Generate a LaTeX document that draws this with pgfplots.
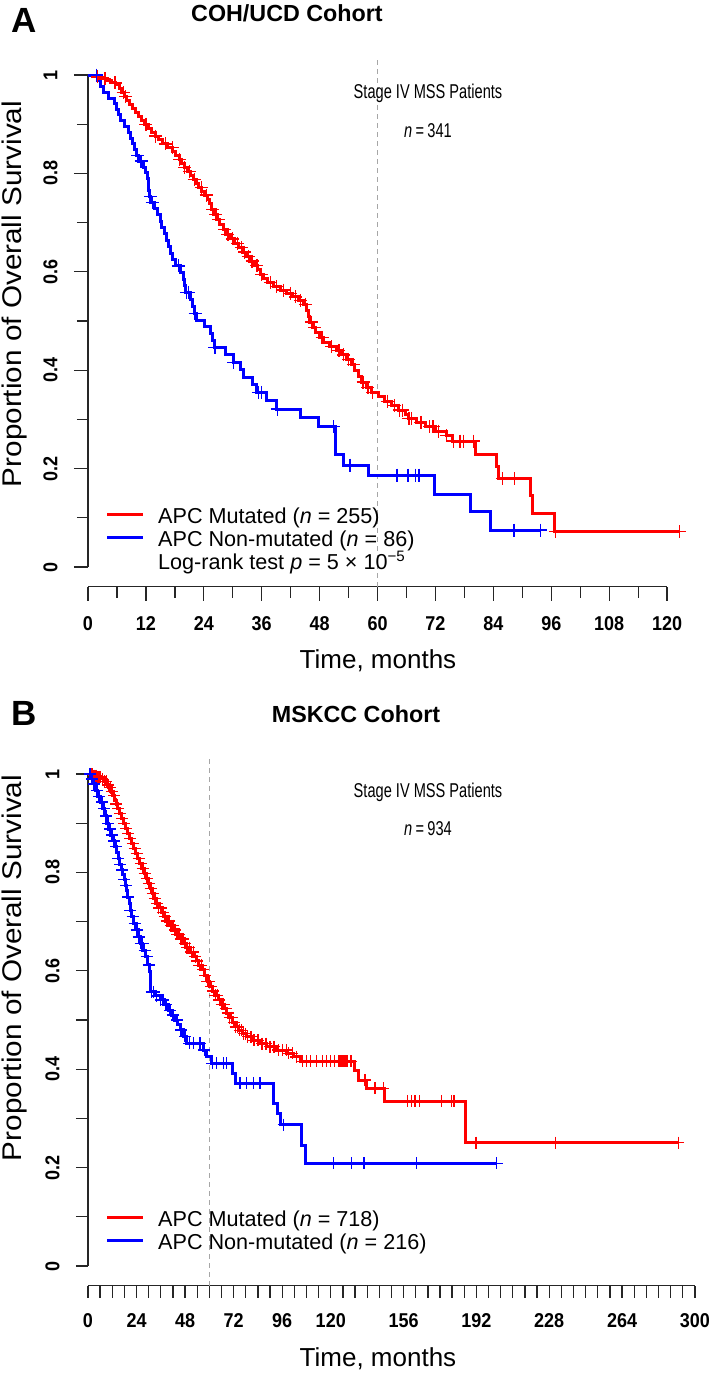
\documentclass[border=0pt]{standalone}
\usepackage{pgfplots}
\pgfplotsset{compat=1.18}
\usepackage{fontspec}
\setmainfont{Liberation Sans}
\newfontfamily\condfont{Liberation Sans}[FakeStretch=0.73]
\newfontfamily\tickfont{Liberation Sans}[FakeStretch=0.9]
\newfontfamily\widefont{Liberation Sans}[FakeStretch=1.1]
\pgfplotsset{kmaxis/.style={
  enlargelimits=false, clip=false,
  axis line style={draw=none},
  tick align=outside, xtick pos=left, ytick pos=left,
  ymin=-0.04, ymax=1.04, y=492pt,
  ytick={0,0.2,0.4,0.6,0.8,1},
  minor ytick={0.1,0.3,0.5,0.7,0.9},
  tick style={line width=1.3pt, black!85},
  /pgf/number format/assume math mode=true,
  ticklabel style={font=\tickfont\bfseries\fontsize{20}{22}\selectfont},
  yticklabel style={rotate=90, anchor=south},
  xticklabel shift=12pt, yticklabel shift=13pt,
  anchor=south west,
}}
\begin{document}
\begin{tikzpicture}
\useasboundingbox (0pt,0pt) rectangle (709pt,-1377pt);
% ---------------- Panel A ----------------
\begin{axis}[kmaxis, at={(88pt,-586.7pt)}, x=4.826pt, xmin=0, xmax=126,
  xtick={0,12,...,120}, minor xtick={6,18,...,114},
  major tick length=14pt, minor tick length=11pt]
\draw[line width=1.3pt, black!85] (axis cs:0,0) -- (axis cs:0,1);
\draw[line width=1.3pt, black!85] (axis cs:0,-0.04) -- (axis cs:120,-0.04);
\draw[gray!70, line width=1.2pt, dash pattern=on 5pt off 4pt] (axis cs:60,-0.04) -- (axis cs:60,1.03);
\addplot[red, line width=3pt, const plot mark left] coordinates {
(0,1) (1.5,0.996) (2.5,0.992) (4.0,0.988) (4.8,0.984) (5.8,0.98) (6.5,0.972) (7.0,0.964) (7.5,0.956) (8.0,0.948)
(8.6,0.94) (9.2,0.932) (9.8,0.924) (10.4,0.916) (11.0,0.908) (11.8,0.9) (12.5,0.892) (13.2,0.884) (13.9,0.876)
(14.6,0.868) (15.5,0.86) (16.5,0.852) (17.6,0.844) (18.2,0.836) (18.9,0.828) (19.4,0.82) (20.0,0.812) (20.6,0.804)
(21.2,0.796) (21.8,0.788) (22.4,0.78) (23.0,0.772) (23.6,0.764) (24.2,0.756) (24.8,0.748) (25.2,0.738) (25.6,0.727)
(26.0,0.716) (26.6,0.706) (27.2,0.696) (28.0,0.686) (28.8,0.676) (29.6,0.667) (30.4,0.658) (31.2,0.649) (32.0,0.64)
(32.8,0.631) (33.6,0.622) (34.4,0.613) (35.2,0.604) (35.8,0.595) (36.4,0.586) (37.2,0.578) (38.4,0.57) (39.8,0.563)
(41.2,0.556) (42.4,0.549) (43.6,0.542) (44.6,0.534) (45.2,0.522) (45.6,0.51) (46.0,0.498) (46.6,0.487) (47.2,0.476)
(48.0,0.466) (48.8,0.456) (50.0,0.448) (51.4,0.44) (52.6,0.431) (53.6,0.422) (54.6,0.412) (55.3,0.4) (56.0,0.388)
(56.7,0.376) (57.8,0.365) (58.8,0.355) (60.2,0.346) (61.4,0.337) (62.8,0.328) (64.4,0.319) (65.8,0.31) (66.4,0.302)
(68.0,0.294) (70.0,0.285) (72.0,0.276) (74.2,0.267) (75.6,0.256) (80.2,0.228) (84.6,0.205) (85.0,0.18) (91.6,0.145)
(92.1,0.109) (96.6,0.072) (122.5,0.072)};
\addplot[red, only marks, mark=+, mark size=6.5pt, mark options={line width=1.3pt}, forget plot] coordinates {
(2,0.996) (3.5,0.992) (5.6,0.984) (7.3,0.964) (7.8,0.956) (12,0.9) (14,0.876) (16,0.86) (17.5,0.852) (19,0.828)
(20,0.812) (21,0.804) (22,0.788) (23.5,0.772) (24.5,0.756) (25.8,0.727) (26.5,0.716) (27,0.706) (28.3,0.686)
(29,0.676) (30,0.667) (31,0.658) (31.8,0.649) (32.5,0.64) (33.2,0.631) (34,0.622) (35,0.613) (36,0.595) (37.8,0.578)
(39,0.57) (40.5,0.563) (42,0.556) (43,0.549) (44,0.542) (45,0.534) (46.3,0.498) (47,0.487) (48.5,0.466) (50.5,0.448)
(52,0.44) (53,0.431) (54,0.422) (55,0.412) (57,0.376) (58,0.365) (59,0.355) (62,0.337) (63.5,0.328) (64.5,0.319)
(65.2,0.319) (66.5,0.302) (67,0.302) (69,0.294) (70.8,0.285) (71.5,0.285) (72.6,0.276) (74.3,0.267) (75.7,0.256)
(77.1,0.256) (77.8,0.256) (79.9,0.256) (85.9,0.18) (88.4,0.18) (96.8,0.072) (122.5,0.072)};
\addplot[blue, line width=3pt, const plot mark left] coordinates {
(0,1) (1.9,0.988) (2.5,0.977) (3.2,0.965) (4.3,0.953) (5.5,0.942) (6.0,0.93) (6.4,0.919) (6.8,0.907) (7.6,0.895)
(8.3,0.884) (8.8,0.872) (9.3,0.86) (9.7,0.849) (10.0,0.837) (10.4,0.825) (11.6,0.813) (12.0,0.801) (12.3,0.789)
(12.5,0.777) (12.6,0.765) (12.8,0.753) (13.0,0.741) (13.8,0.729) (14.5,0.716) (15.0,0.703) (15.3,0.69) (15.8,0.677)
(16.2,0.664) (16.6,0.651) (17.0,0.638) (17.5,0.625) (18.2,0.612) (19.2,0.599) (19.7,0.585) (20.0,0.572) (20.2,0.558)
(21.3,0.544) (21.6,0.53) (22.0,0.516) (22.4,0.502) (24.2,0.488) (25.4,0.474) (25.8,0.46) (26.2,0.446) (28.4,0.431)
(30.2,0.416) (31.5,0.401) (32.2,0.386) (34.0,0.371) (35.0,0.355) (37.0,0.338) (39.0,0.321) (44.0,0.303) (47.7,0.285)
(51.2,0.228) (52.9,0.207) (58.1,0.187) (71.9,0.148) (79.2,0.112) (83.5,0.075) (93.7,0.075)};
\addplot[blue, only marks, mark=+, mark size=6.5pt, mark options={line width=1.3pt}, forget plot] coordinates {
(1.8,1) (10.3,0.837) (11,0.825) (12.9,0.753) (13.3,0.741) (18.7,0.612) (20.4,0.558) (20.8,0.558) (22.2,0.516)
(26.3,0.446) (30.2,0.416) (35.3,0.355) (36,0.355) (39.2,0.321) (50.9,0.285) (54.3,0.207) (64,0.187) (66.3,0.187)
(67.8,0.187) (68.6,0.187) (88.3,0.075) (93.7,0.075)};
\end{axis}
\node[anchor=base west, font=\bfseries\fontsize{35}{38}\selectfont] at (8pt,-32pt) {A};
\node[anchor=base, font=\bfseries\fontsize{23.3}{26}\selectfont] at (287pt,-21pt) {COH/UCD Cohort};
\node[anchor=base, font=\condfont\fontsize{20}{22}\selectfont] at (428pt,-98pt) {Stage IV MSS Patients};
\node[anchor=base, font=\condfont\fontsize{20}{22}\selectfont] at (428pt,-137pt) {\textit{n}\,=\,341};
\draw[red, line width=3pt] (107pt,-514pt) -- (143pt,-514pt);
\draw[blue, line width=3pt] (107pt,-537pt) -- (143pt,-537pt);
\node[anchor=base west, inner sep=0pt, font=\fontsize{21.6}{23}\selectfont] at (158pt,-523pt) {APC Mutated (\textit{n} = 255)};
\node[anchor=base west, inner sep=0pt, font=\fontsize{21.6}{23}\selectfont] at (158pt,-546pt) {APC Non-mutated (\textit{n} = 86)};
\node[anchor=base west, inner sep=0pt, font=\fontsize{21.6}{23}\selectfont] at (158pt,-569pt) {Log-rank test \textit{p} = 5 × 10\textsuperscript{−5}};
\node[anchor=base, font=\fontsize{26}{28}\selectfont] at (378pt,-668pt) {Time, months};
\node[rotate=90, anchor=base, font=\widefont\fontsize{27}{29}\selectfont] at (21pt,-294pt) {Proportion of Overall Survival};
% ---------------- Panel B ----------------
\begin{axis}[kmaxis, at={(88pt,-1285.7pt)}, x=2.023pt, xmin=0, xmax=310,
  xtick={0,24,48,72,96,120,156,192,228,264,300},
  minor xtick={6,12,18,30,36,42,54,60,66,78,84,90,102,108,114,126,132,138,144,150,162,168,174,180,186,198,204,210,216,222,234,240,246,252,258,270,276,282,288,294},
  major tick length=12pt, minor tick length=12pt]
\draw[line width=1.3pt, black!85] (axis cs:0,0) -- (axis cs:0,1);
\draw[line width=1.3pt, black!85] (axis cs:0,-0.04) -- (axis cs:300,-0.04);
\draw[gray!70, line width=1.2pt, dash pattern=on 5pt off 4pt] (axis cs:60,-0.04) -- (axis cs:60,1.03);
\addplot[red, line width=3pt, const plot mark left] coordinates {
(0,1) (2.5,0.997) (4.5,0.994) (6.5,0.99) (8,0.985) (9.2,0.978) (10.3,0.972) (11.3,0.965) (12.2,0.956) (13.1,0.947)
(14,0.939) (14.8,0.93) (15.6,0.92) (16.5,0.91) (17.5,0.9) (18.5,0.89) (19.5,0.879) (20.6,0.869) (21.6,0.859)
(22.6,0.849) (23.6,0.839) (24.6,0.828) (25.7,0.818) (26.7,0.808) (27.7,0.798) (28.8,0.788) (29.8,0.778) (30.9,0.768)
(32,0.757) (33,0.747) (34,0.737) (35,0.728) (36.1,0.719) (37.2,0.71) (38.9,0.701) (40.5,0.692) (42.2,0.683)
(43.8,0.674) (45.5,0.665) (47.1,0.656) (48.8,0.647) (50.4,0.638) (52.1,0.629) (53.5,0.62) (54.8,0.611) (56.2,0.602)
(57.5,0.591) (58.9,0.579) (60.3,0.568) (61.7,0.559) (63,0.55) (64.4,0.541) (65.8,0.532) (67.2,0.523) (68.6,0.514)
(70,0.505) (71.3,0.495) (72.7,0.486) (74.6,0.479) (76.5,0.472) (78.4,0.466) (81.7,0.459) (85,0.452) (88.3,0.446)
(93.2,0.439) (98.2,0.432) (101.5,0.425) (104.8,0.416) (131.5,0.398) (133.6,0.378) (137.7,0.361) (146.8,0.335)
(186.4,0.251) (291.8,0.251)};
\addplot[red, only marks, mark=+, mark size=6pt, mark options={line width=1.3pt}, forget plot] coordinates {
(1,1) (2,1) (3,0.997) (4,0.997) (5,0.994) (6,0.994) (7,0.99) (8,0.985) (9,0.985) (10,0.978) (11,0.972) (12,0.965)
(13,0.956) (14,0.939) (15,0.93) (16,0.92) (17,0.91) (18,0.9) (19,0.89) (20,0.879) (21,0.869) (22,0.859) (23,0.849)
(24,0.839) (25,0.828) (26,0.818) (27,0.808) (28,0.798) (29,0.788) (30,0.778) (31,0.768) (32,0.757) (33,0.747)
(34,0.737) (35,0.728) (36,0.728) (37,0.719) (38,0.71) (39,0.701) (40,0.701) (41,0.692) (42,0.692) (43,0.683)
(44,0.674) (45,0.674) (46,0.665) (47,0.665) (48,0.656) (49,0.647) (50,0.647) (51,0.638) (52,0.638) (53,0.629)
(54,0.62) (55,0.611) (56,0.611) (57,0.602) (58,0.591) (59,0.579) (60,0.579) (61,0.568) (62,0.559) (63,0.55)
(64,0.55) (65,0.541) (66,0.532) (67,0.532) (68,0.523) (69,0.514) (70,0.505) (71,0.505) (72,0.495) (73,0.486)
(74,0.486) (75,0.479) (76,0.479) (77,0.472) (78,0.472) (79,0.466) (80.5,0.466) (82,0.459) (84,0.459) (86,0.452)
(88,0.452) (90,0.446) (92,0.446) (94,0.439) (96,0.439) (98,0.439) (99,0.432) (101,0.432) (103,0.425) (106,0.416)
(108,0.416) (110,0.416) (113,0.416) (116,0.416) (118,0.416) (120,0.416) (122,0.416) (124,0.416) (125,0.416)
(126,0.416) (127,0.416) (128,0.416) (130,0.416) (136.9,0.378) (141.9,0.361) (146,0.361) (157.8,0.335) (160,0.335)
(161.6,0.335) (163.8,0.335) (174.8,0.335) (179.8,0.335) (180.9,0.335) (191.8,0.251) (231.2,0.251) (291.8,0.251)};
\addplot[blue, line width=3pt, const plot mark left] coordinates {
(0,1) (1.5,0.99) (2.5,0.98) (3.5,0.967) (4.8,0.955) (6,0.943) (7.2,0.93) (8.2,0.915) (9.2,0.9) (10.2,0.888)
(11.2,0.876) (12.3,0.864) (13.3,0.852) (14.1,0.84) (14.9,0.828) (15.8,0.816) (16.6,0.805) (17.2,0.795) (17.8,0.785)
(18.5,0.774) (19.1,0.764) (19.7,0.75) (20.3,0.737) (21,0.723) (21.6,0.71) (22.7,0.696) (23.8,0.683) (24.9,0.669)
(26,0.656) (27.1,0.642) (28.2,0.629) (29.4,0.612) (30.6,0.598) (30.8,0.557) (33.2,0.549) (35.6,0.541) (37.6,0.531)
(39.7,0.52) (41.4,0.51) (43,0.5) (44.2,0.49) (45.5,0.48) (47.1,0.467) (48.8,0.453) (57,0.439) (58.7,0.426)
(61.1,0.412) (71.2,0.392) (72.9,0.372) (91.6,0.33) (93.5,0.31) (95,0.287) (105.6,0.246) (107.3,0.209) (202,0.209)};
\addplot[blue, only marks, mark=+, mark size=6pt, mark options={line width=1.3pt}, forget plot] coordinates {
(1,1) (2,0.99) (3,0.98) (4.5,0.967) (5.5,0.955) (7,0.943) (8,0.93) (9,0.915) (10,0.9) (11,0.888) (12,0.876)
(13,0.864) (14,0.852) (15,0.828) (16,0.816) (17,0.805) (18,0.785) (19,0.774) (20,0.75) (21,0.723) (22,0.71)
(23,0.696) (24,0.683) (25,0.669) (26,0.656) (27,0.656) (28,0.642) (29,0.629) (30,0.612) (31.5,0.557) (32.5,0.557)
(34,0.549) (36,0.541) (37,0.541) (38.5,0.531) (40.5,0.52) (42,0.51) (44,0.5) (46,0.48) (48,0.467) (50,0.453)
(52,0.453) (55.4,0.453) (57.5,0.439) (61.5,0.412) (63.6,0.412) (66.9,0.412) (68.6,0.412) (75.1,0.372) (78.4,0.372)
(81.7,0.372) (85,0.372) (96.7,0.287) (121.3,0.209) (130.3,0.209) (136.4,0.209) (162.4,0.209) (202,0.209)};
\end{axis}
\node[anchor=base west, font=\bfseries\fontsize{35}{38}\selectfont] at (8pt,-725pt) {B};
\node[anchor=base, font=\bfseries\fontsize{23.3}{26}\selectfont] at (356pt,-722pt) {MSKCC Cohort};
\node[anchor=base, font=\condfont\fontsize{20}{22}\selectfont] at (428pt,-797pt) {Stage IV MSS Patients};
\node[anchor=base, font=\condfont\fontsize{20}{22}\selectfont] at (428pt,-835pt) {\textit{n}\,=\,934};
\draw[red, line width=3pt] (107pt,-1217pt) -- (143pt,-1217pt);
\draw[blue, line width=3pt] (107pt,-1240pt) -- (143pt,-1240pt);
\node[anchor=base west, inner sep=0pt, font=\fontsize{21.6}{23}\selectfont] at (158pt,-1226pt) {APC Mutated (\textit{n} = 718)};
\node[anchor=base west, inner sep=0pt, font=\fontsize{21.6}{23}\selectfont] at (158pt,-1249pt) {APC Non-mutated (\textit{n} = 216)};
\node[anchor=base, font=\fontsize{26}{28}\selectfont] at (378pt,-1366pt) {Time, months};
\node[rotate=90, anchor=base, font=\widefont\fontsize{27}{29}\selectfont] at (21pt,-968pt) {Proportion of Overall Survival};
\end{tikzpicture}
\end{document}
